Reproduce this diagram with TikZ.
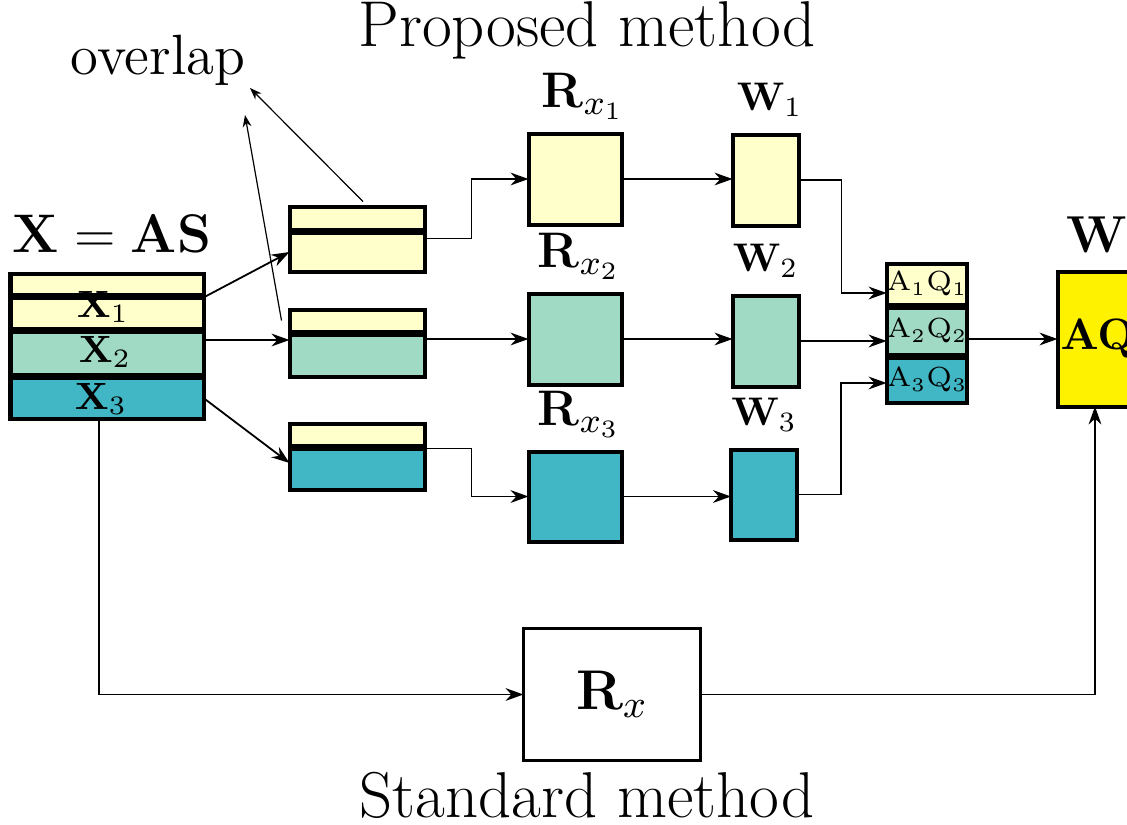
\RequirePackage{fix-cm}
\documentclass[tikz,border=0pt]{standalone}
\usepackage{amsmath}
\usepackage{xcolor}
\usetikzlibrary{arrows.meta,positioning}
\definecolor{lyellow}{HTML}{FFFFCC}
\definecolor{lgreen}{HTML}{A1DAC4}
\definecolor{lteal}{HTML}{41B6C4}
\newcommand{\setsz}[1]{\fontsize{#1}{#1}\selectfont}

\begin{document}
\begin{tikzpicture}[x=0.25pt,y=-0.25pt,
    blk/.style={draw=black, line width=1pt, inner sep=0pt, outer sep=0pt},
    sz/.style 2 args={minimum width=(#1-3)*0.25pt, minimum height=(#2-3)*0.25pt},
    arr/.style={-{Stealth[length=4.5pt,width=3.2pt]}, line width=0.45pt},
    thinarr/.style={-{Stealth[length=3pt,width=2.2pt]}, line width=0.3pt}]
    \useasboundingbox (0,0) rectangle (1127,825);
    % titles
    \node[inner sep=1pt] (prop) at (587,30) {\setsz{16.2}Proposed method};
    \node[inner sep=1pt] (stand) at (587,795) {\setsz{16.2}Standard method};
    \node (ovl) at (158,60) {\setsz{14.2}overlap};
    \node (xas) at (112,234) {\setsz{13.6}$\mathbf{X}=\mathbf{AS}$};
    % data matrix X
    \node[blk, fill=lyellow, sz={196}{24}] (st0) at (107,284) {};
    \node[blk, fill=lyellow, sz={196}{34}] (st1) at (107,313) {};
    \node[blk, fill=lgreen, sz={196}{46}] (st2) at (107,353) {};
    \node[blk, fill=lteal, sz={196}{44}] (st3) at (107,398) {};
    \node (x1) at (103,307) {\setsz{9.5}$\mathbf{X}_1$};
    \node (x2) at (105,352) {\setsz{9.5}$\mathbf{X}_2$};
    \node (x3) at (101,399) {\setsz{9.5}$\mathbf{X}_3$};
    % blocks with overlap
    \node[blk, fill=lyellow, sz={138}{26}] (m1a) at (357,218) {};
    \node[blk, fill=lyellow, sz={138}{42}] (m1b) at (357,252) {};
    \node[blk, fill=lyellow, sz={138}{25}] (m2a) at (357,320.5) {};
    \node[blk, fill=lgreen, sz={138}{45}] (m2b) at (357,355.5) {};
    \node[blk, fill=lyellow, sz={138}{25}] (m3a) at (357,434.5) {};
    \node[blk, fill=lteal, sz={138}{44}] (m3b) at (357,469) {};
    % covariance blocks
    \node[blk, fill=lyellow, sz={96}{94}] (R1) at (575,179) {};
    \node[blk, fill=lgreen, sz={96}{94}] (R2) at (575,339) {};
    \node[blk, fill=lteal, sz={96}{93}] (R3) at (575,496.5) {};
    \node[above=0pt of R1, xshift=2pt] (R1l) {\setsz{12.5}$\mathbf{R}_{x_1}$};
    \node[above=0pt of R2, xshift=1pt] (R2l) {\setsz{12.5}$\mathbf{R}_{x_2}$};
    \node[above=0pt of R3, xshift=1pt] (R3l) {\setsz{12.5}$\mathbf{R}_{x_3}$};
    % separating matrices
    \node[blk, fill=lyellow, sz={69}{94}] (W1) at (765.5,180) {};
    \node[blk, fill=lgreen, sz={69}{94}] (W2) at (765.5,341) {};
    \node[blk, fill=lteal, sz={69}{93}] (W3) at (764,494.5) {};
    \node[above=1pt of W1, xshift=1pt] (W1l) {\setsz{10}$\mathbf{W}_1$};
    \node[above=1pt of W2] (W2l) {\setsz{10}$\mathbf{W}_2$};
    \node[above=1pt of W3] (W3l) {\setsz{10}$\mathbf{W}_3$};
    % combined
    \node[blk, fill=lyellow, sz={70}{44}] (a1) at (927,284) {\setsz{6.9}$\mathrm{A}_1\mathrm{Q}_1$};
    \node[blk, fill=lgreen, sz={70}{50}] (a2) at (927,331) {\setsz{6.9}$\mathrm{A}_2\mathrm{Q}_2$};
    \node[blk, fill=lteal, sz={70}{48}] (a3) at (927,380) {\setsz{6.9}$\mathrm{A}_3\mathrm{Q}_3$};
    \node[blk, fill=yellow, sz={84}{138}] (AQ) at (1098,339) {\setsz{11}$\mathbf{AQ}$};
    \node (Wl) at (1097,235) {\setsz{13}$\mathbf{W}$};
    % standard method
    \node[blk, line width=0.8pt, fill=white, sz={180}{135}] (Rx) at (612,694.5) {\setsz{14}$\mathbf{R}_x$};
    % connectors
    \draw[arr] (st1.north east) -- (m1b.west);
    \draw[arr] ([yshift=3.25pt]st2.east) -- ([yshift=3.25pt]st2.east -| m2b.west);
    \draw[arr] (st3.east) -- ([yshift=1.5pt]m3b.west);
    \draw[thinarr] ([xshift=1.5pt,yshift=1.25pt]m1a.north) -- (250,88);
    \draw[thinarr] ([xshift=-2pt]m2a.west) -- (245,115);
    \draw[arr] ([yshift=-1.5pt]m1b.north east) -- ++(47,0) |- (R1.west);
    \draw[arr] (m2b.east |- R2.west) -- (R2.west);
    \draw[arr] (m3b.north east) -- ++(47,0) |- (R3.west);
    \draw[arr] (R1.east) -- (R1.east -| W1.west);
    \draw[arr] (R2.east) -- (R2.east -| W2.west);
    \draw[arr] (R3.east) -- (R3.east -| W3.west);
    \draw[arr] (W1.east) -- ++(43,0) |- ([yshift=-2.25pt]a1.west);
    \draw[arr] (W2.east) -- (W2.east -| a2.west);
    \draw[arr] (W3.east) -- ++(44,0) |- ([yshift=-0.75pt]a3.west);
    \draw[arr] (a2.east |- AQ.west) -- (AQ.west);
    \draw[arr] ([xshift=-2pt]st3.south) |- (Rx.west);
    \draw[arr] (Rx.east) -| ([xshift=-0.75pt]AQ.south);
\end{tikzpicture}
\end{document}
